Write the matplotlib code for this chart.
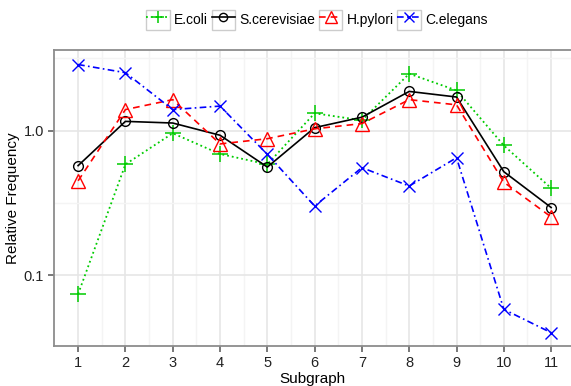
import matplotlib
matplotlib.use("Agg")
import matplotlib.pyplot as plt
from matplotlib.legend_handler import HandlerLine2D
from matplotlib.patches import Rectangle
from matplotlib.ticker import FixedLocator, NullFormatter

plt.rcParams['font.family'] = ['Liberation Sans', 'DejaVu Sans']

subgraph = [1, 2, 3, 4, 5, 6, 7, 8, 9, 10, 11]
ecoli = [0.074, 0.585, 0.96, 0.69, 0.585, 1.32, 1.18, 2.48, 1.90, 0.79, 0.40]
scerevisiae = [0.573, 1.16, 1.13, 0.93, 0.56, 1.05, 1.24, 1.87, 1.71, 0.52, 0.294]
hpylori = [0.45, 1.40, 1.64, 0.81, 0.88, 1.03, 1.12, 1.64, 1.51, 0.44, 0.253]
celegans = [2.87, 2.52, 1.40, 1.48, 0.686, 0.301, 0.555, 0.414, 0.65, 0.058, 0.040]


# legend key with a grey box around it, like ggplot
class BoxedHandler(HandlerLine2D):
    def create_artists(self, legend, orig_handle, xdescent, ydescent,
                       width, height, fontsize, trans):
        arts = super().create_artists(legend, orig_handle, xdescent, ydescent,
                                      width, height, fontsize, trans)
        box = Rectangle((-xdescent, -ydescent), width, height, fc='white',
                        ec='#CCCCCC', lw=1.0, transform=trans)
        return [box] + arts


fig = plt.figure(figsize=(5.71, 3.86), dpi=100)
ax = fig.add_axes([0.0954, 0.1044, 0.9046, 0.7648])

ax.plot(subgraph, ecoli, color='#00CC00', linestyle=':', lw=1.3,
        marker='+', markersize=11, markeredgewidth=1.1, label='E.coli')
ax.plot(subgraph, scerevisiae, color='black', linestyle='-', lw=1.2,
        marker='o', markersize=7, markerfacecolor='none', markeredgewidth=1.0,
        label='S.cerevisiae')
ax.plot(subgraph, hpylori, color='red', linestyle=(0, (4, 3)), lw=1.2,
        marker='^', markersize=10, markerfacecolor='none', markeredgewidth=1.0,
        label='H.pylori')
ax.plot(subgraph, celegans, color='blue', linestyle=(0, (4, 2, 1, 2)), lw=1.2,
        marker='x', markersize=8, markeredgewidth=1.0, label='C.elegans')

ax.set_yscale('log')
ax.set_xlim(0.5, 11.42)
ax.set_ylim(0.0325, 3.59)

ax.set_xticks(subgraph)
ax.xaxis.set_minor_locator(FixedLocator([x + 0.5 for x in subgraph]))
ax.yaxis.set_major_locator(FixedLocator([0.1, 1.0]))
ax.set_yticklabels(['0.1', '1.0'])
ax.yaxis.set_minor_locator(FixedLocator([10 ** -1.5, 10 ** -0.5, 10 ** 0.5]))
ax.yaxis.set_minor_formatter(NullFormatter())

ax.grid(which='major', color='#E6E6E6', lw=1.2)
ax.grid(which='minor', color='#F4F4F4', lw=1.0)
ax.set_axisbelow(True)

for s in ['left', 'bottom', 'top']:
    ax.spines[s].set_color('#8C8C8C')
    ax.spines[s].set_linewidth(1.3)
ax.spines['right'].set_visible(False)

ax.tick_params(which='major', direction='out', length=4, width=1.1,
               color='#555555', labelsize=10.5, labelcolor='#222222')
ax.tick_params(which='minor', length=0)

ax.set_xlabel('Subgraph', fontsize=11, labelpad=1)
ax.set_ylabel('Relative Frequency', fontsize=11, labelpad=3)

handles, labels = ax.get_legend_handles_labels()
leg = fig.legend(handles, labels, loc='upper center',
                 bbox_to_anchor=(0.555, 1.0), ncol=4, frameon=False,
                 fontsize=10, handlelength=1.7, handleheight=1.85,
                 handletextpad=0.3, columnspacing=0.25, borderaxespad=0.3,
                 markerscale=0.85,
                 handler_map={h: BoxedHandler(marker_pad=0.0) for h in handles})

fig.savefig('out.png', dpi=100)
